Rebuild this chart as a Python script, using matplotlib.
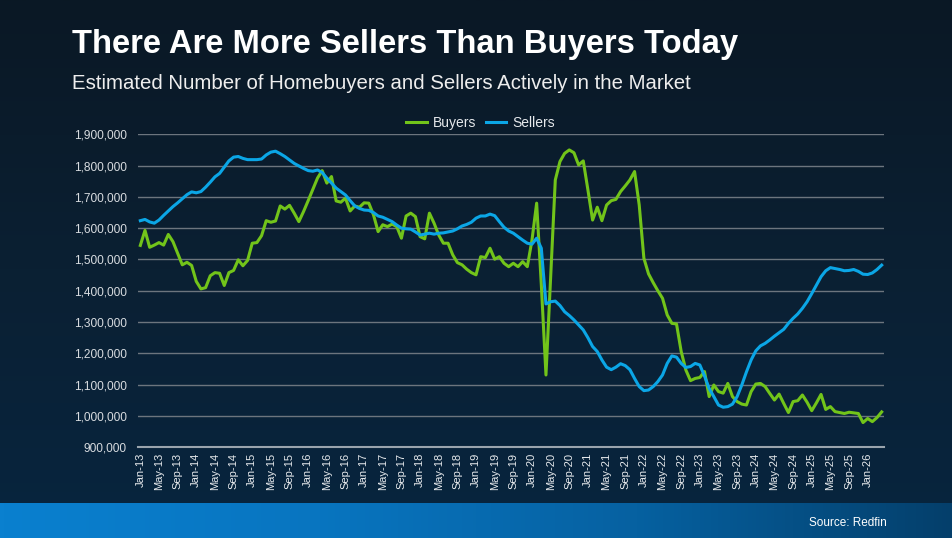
import matplotlib.pyplot as plt
import numpy as np
import pandas as pd
from matplotlib.colors import LinearSegmentedColormap
from matplotlib.ticker import FuncFormatter

plt.rcParams['font.family'] = ['Liberation Sans', 'DejaVu Sans']

# monthly, Jan-13 .. Apr-26
months = pd.date_range('2013-01-01', periods=160, freq='MS')
month_labels = [d.strftime('%b-%y') for d in months]

buyers = [
    1545, 1593, 1539, 1546, 1554, 1546, 1580, 1557, 1520, 1483,
    1491, 1481, 1430, 1406, 1410, 1448, 1458, 1456, 1417, 1458,
    1465, 1499, 1480, 1497, 1552, 1554, 1576, 1624, 1619, 1623,
    1671, 1661, 1673, 1648, 1621, 1653, 1688, 1724, 1760, 1784,
    1744, 1765, 1687, 1683, 1696, 1655, 1671, 1667, 1681, 1680,
    1643, 1589, 1611, 1605, 1613, 1605, 1568, 1639, 1648, 1637,
    1573, 1566, 1648, 1616, 1578, 1552, 1552, 1515, 1490, 1483,
    1469, 1458, 1451, 1509, 1506, 1536, 1501, 1509, 1488, 1477,
    1488, 1477, 1493, 1477, 1562, 1680, 1420, 1131, 1445, 1754,
    1813, 1839, 1850, 1841, 1802, 1815, 1722, 1626, 1667, 1624,
    1674, 1688, 1692, 1717, 1735, 1754, 1781, 1674, 1504, 1454,
    1426, 1400, 1376, 1323, 1296, 1294, 1206, 1147, 1113, 1120,
    1123, 1142, 1062, 1099, 1078, 1073, 1104, 1062, 1046, 1038,
    1035, 1078, 1102, 1104, 1094, 1072, 1051, 1070, 1040, 1011,
    1046, 1049, 1067, 1044, 1017, 1042, 1069, 1021, 1030, 1014,
    1011, 1008, 1012, 1010, 1008, 979, 992, 982, 995, 1013,
]

sellers = [
    1624, 1628, 1620, 1616, 1626, 1641, 1655, 1669, 1681, 1694,
    1707, 1716, 1713, 1717, 1731, 1747, 1764, 1775, 1795, 1815,
    1827, 1829, 1823, 1819, 1819, 1819, 1821, 1834, 1843, 1846,
    1838, 1829, 1818, 1807, 1799, 1791, 1784, 1782, 1786, 1778,
    1760, 1744, 1728, 1717, 1706, 1688, 1671, 1663, 1658, 1657,
    1650, 1639, 1635, 1628, 1621, 1610, 1600, 1598, 1597, 1588,
    1578, 1581, 1584, 1581, 1584, 1585, 1588, 1591, 1598, 1607,
    1612, 1619, 1632, 1639, 1639, 1645, 1640, 1621, 1603, 1591,
    1584, 1573, 1562, 1552, 1549, 1568, 1536, 1358, 1365, 1367,
    1353, 1333, 1321, 1307, 1291, 1275, 1250, 1222, 1206, 1179,
    1156, 1148, 1156, 1167, 1161, 1148, 1120, 1094, 1081, 1083,
    1094, 1110, 1131, 1168, 1192, 1188, 1168, 1155, 1158, 1168,
    1163, 1128, 1088, 1062, 1035, 1028, 1030, 1038, 1062, 1099,
    1141, 1179, 1208, 1224, 1232, 1243, 1255, 1266, 1277, 1296,
    1312, 1326, 1344, 1365, 1391, 1418, 1445, 1464, 1474, 1471,
    1468, 1464, 1465, 1468, 1462, 1453, 1452, 1457, 1468, 1482,
]

buyers = np.array(buyers) * 1000
sellers = np.array(sellers) * 1000
x = np.arange(len(months))

fig = plt.figure(figsize=(9.53, 5.38), dpi=100)

# dark background gradient
bg = fig.add_axes([0, 0, 1, 1])
grad = np.linspace(0, 1, 256).reshape(-1, 1)
bg_cmap = LinearSegmentedColormap.from_list('bg', ['#0a1825', '#0b2033', '#07253f'])
bg.imshow(grad, aspect='auto', cmap=bg_cmap, extent=[0, 1, 0, 1])
bg.axis('off')

# blue band at the bottom
band = fig.add_axes([0, 0, 1, 35 / 538])
hgrad = np.linspace(0, 1, 256).reshape(1, -1)
band_cmap = LinearSegmentedColormap.from_list('band', ['#0a80cf', '#0875c0', '#0661a1', '#043f6b'])
band.imshow(hgrad, aspect='auto', cmap=band_cmap, extent=[0, 1, 0, 1])
band.axis('off')

fig.text(0.0755, 0.9015, 'There Are More Sellers Than Buyers Today', color='white',
         fontsize=23.6, fontweight='bold', va='baseline', ha='left')
fig.text(0.0755, 0.8346, 'Estimated Number of Homebuyers and Sellers Actively in the Market',
         color='#eeeeee', fontsize=14.7, va='baseline', ha='left')
fig.text(0.930, 0.028, 'Source: Redfin', color='white', fontsize=8.5, ha='right', va='center')

ax = fig.add_axes([0.1448, 0.1686, 0.7828, 0.5818])
ax.patch.set_alpha(0)

ax.plot(x, buyers, color='#72c41a', lw=2.2, label='Buyers')
ax.plot(x, sellers, color='#0ba6e6', lw=2.2, label='Sellers')

ax.set_xlim(-0.5, 159.5)
ax.set_ylim(900000, 1900000)
ax.set_yticks(np.arange(900000, 1900001, 100000))
ax.yaxis.set_major_formatter(FuncFormatter(lambda v, p: f'{int(v):,}'))
ax.grid(axis='y', color='#6c757e', lw=1.0)
ax.set_axisbelow(True)

ax.set_xticks(x[::4])
ax.set_xticklabels(month_labels[::4], rotation=90)

for s in ['top', 'right', 'left']:
    ax.spines[s].set_visible(False)
ax.spines['bottom'].set_color('#9aa4ad')
ax.spines['bottom'].set_linewidth(1.5)
ax.tick_params(axis='y', length=0, pad=8, labelsize=8.6, labelcolor='#d8dce0')
ax.tick_params(axis='x', length=0, pad=4, labelsize=8, labelcolor='#e8ebee')

leg = ax.legend(loc='center', bbox_to_anchor=(0.459, 1.036), ncol=2, frameon=False,
                fontsize=10, handlelength=1.5, handletextpad=0.43, columnspacing=0.7)
for t in leg.get_texts():
    t.set_color('#e6e9ec')

fig.savefig('out.png', dpi=100, facecolor=fig.get_facecolor())
